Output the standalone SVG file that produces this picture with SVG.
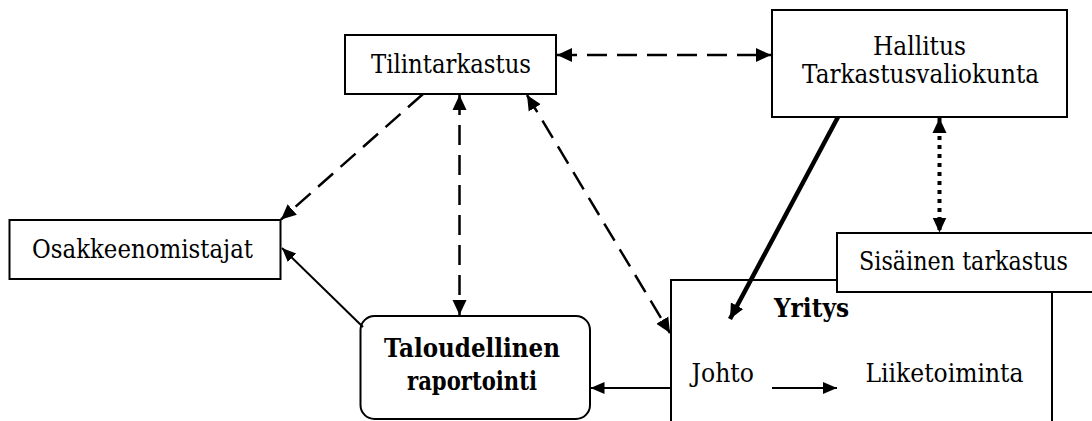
<svg xmlns="http://www.w3.org/2000/svg" width="1092" height="421" viewBox="0 0 1092 421">
<style>
.box{fill:#fff;stroke:#000;stroke-width:2}
.t{font-family:'DejaVu Serif',serif;font-size:26px;fill:#000}
.b{font-weight:bold}
.dash{fill:none;stroke:#000;stroke-width:2.5;stroke-dasharray:20 10}
.dot{fill:none;stroke:#000;stroke-width:4;stroke-dasharray:4 5}
.solid{fill:none;stroke:#000;stroke-width:2}
.thick{fill:none;stroke:#000;stroke-width:4.5}
</style>
<defs>
<marker id="ah" markerUnits="userSpaceOnUse" markerWidth="16" markerHeight="16" viewBox="0 0 16 16" refX="15" refY="8" orient="auto-start-reverse">
<path d="M0,1 L15,8 L0,15 Z" fill="#000"/>
</marker>
<marker id="as" markerUnits="userSpaceOnUse" markerWidth="15" markerHeight="14" viewBox="0 0 15 14" refX="14" refY="7" orient="auto-start-reverse">
<path d="M0,1 L14,7 L0,13 Z" fill="#000"/>
</marker>
</defs>
<rect width="1092" height="421" fill="#fff"/>
<g id="yritys">
<rect class="box" x="671" y="280" width="381" height="170"/>
<text class="t b" x="774" y="317" textLength="75" lengthAdjust="spacingAndGlyphs">Yritys</text>
<text class="t" x="691.5" y="382" textLength="62.5" lengthAdjust="spacingAndGlyphs">Johto</text>
<text class="t" x="865.5" y="382" textLength="158" lengthAdjust="spacingAndGlyphs">Liiketoiminta</text>
</g>
<g id="sisainen">
<rect class="box" x="837" y="233" width="256" height="59"/>
<text class="t" x="859" y="270" textLength="209" lengthAdjust="spacingAndGlyphs">Sisäinen tarkastus</text>
</g>
<g id="tilintarkastus">
<rect class="box" x="345" y="35" width="211" height="59"/>
<text class="t" x="371" y="73" textLength="160" lengthAdjust="spacingAndGlyphs">Tilintarkastus</text>
</g>
<g id="hallitus">
<rect class="box" x="772" y="10" width="295" height="107"/>
<text class="t" x="873" y="55" textLength="93" lengthAdjust="spacingAndGlyphs">Hallitus</text>
<text class="t" x="802" y="83" textLength="237" lengthAdjust="spacingAndGlyphs">Tarkastusvaliokunta</text>
</g>
<g id="osakkeenomistajat">
<rect class="box" x="9.5" y="220" width="271" height="59"/>
<text class="t" x="32" y="258" textLength="221" lengthAdjust="spacingAndGlyphs">Osakkeenomistajat</text>
</g>
<g id="taloudellinen">
<rect class="box" x="360.5" y="316" width="229.5" height="103" rx="14" ry="14"/>
<text class="t b" x="384" y="357" textLength="176" lengthAdjust="spacingAndGlyphs">Taloudellinen</text>
<text class="t b" x="407" y="390" textLength="130" lengthAdjust="spacingAndGlyphs">raportointi</text>
</g>
<g id="connectors">
<line class="dash" x1="557" y1="55" x2="771" y2="55" marker-start="url(#ah)" marker-end="url(#ah)"/>
<line class="dash" x1="459.5" y1="95" x2="459.5" y2="315" marker-start="url(#ah)" marker-end="url(#ah)"/>
<line class="dash" x1="423" y1="94" x2="281" y2="219.5" marker-end="url(#ah)"/>
<line class="dash" x1="527" y1="95" x2="670" y2="333" marker-start="url(#ah)" marker-end="url(#ah)"/>
<line class="dot" x1="939.5" y1="118" x2="939.5" y2="232.5" marker-start="url(#ah)" marker-end="url(#ah)"/>
<line class="thick" x1="838" y1="117" x2="730" y2="319" marker-end="url(#ah)"/>
<line class="solid" x1="363" y1="327" x2="282" y2="248" marker-end="url(#as)"/>
<line class="solid" x1="772" y1="388" x2="837" y2="388" marker-end="url(#as)"/>
<line class="solid" x1="671" y1="388" x2="590.5" y2="388" marker-end="url(#as)"/>
</g>
</svg>
